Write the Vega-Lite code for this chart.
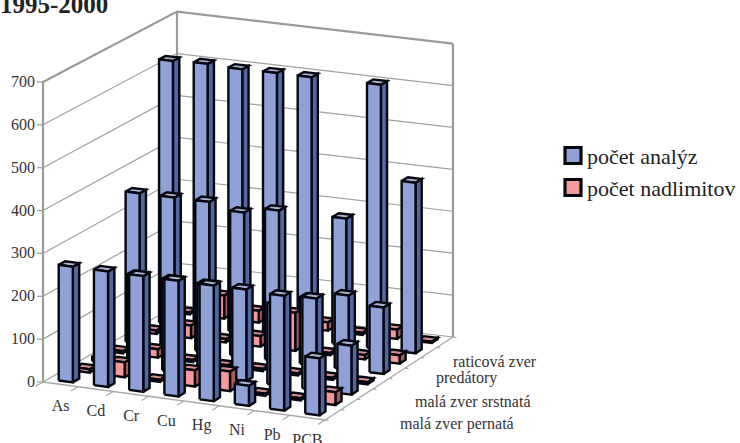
{
  "$schema": "https://vega.github.io/schema/vega-lite/v6.json",
  "width": 740,
  "height": 443,
  "padding": 0,
  "autosize": {"type": "none"},
  "background": "white",
  "config": {"view": {"stroke": null}, "font": "Liberation Serif"},
  "datasets": {
    "bars": [
      {"element": "As", "category": "raticová zver", "series": "počet nadlimitov", "value": 5},
      {"element": "Cd", "category": "raticová zver", "series": "počet nadlimitov", "value": 55},
      {"element": "Cr", "category": "raticová zver", "series": "počet nadlimitov", "value": 28},
      {"element": "Cu", "category": "raticová zver", "series": "počet nadlimitov", "value": 15},
      {"element": "Hg", "category": "raticová zver", "series": "počet nadlimitov", "value": 20},
      {"element": "Ni", "category": "raticová zver", "series": "počet nadlimitov", "value": 5},
      {"element": "Pb", "category": "raticová zver", "series": "počet nadlimitov", "value": 22},
      {"element": "PCB", "category": "raticová zver", "series": "počet nadlimitov", "value": 3},
      {"element": "As", "category": "raticová zver", "series": "počet analýz", "value": 625},
      {"element": "Cd", "category": "raticová zver", "series": "počet analýz", "value": 628},
      {"element": "Cr", "category": "raticová zver", "series": "počet analýz", "value": 625},
      {"element": "Cu", "category": "raticová zver", "series": "počet analýz", "value": 626},
      {"element": "Hg", "category": "raticová zver", "series": "počet analýz", "value": 626},
      {"element": "Ni", "category": "raticová zver", "series": "počet analýz", "value": 300},
      {"element": "Pb", "category": "raticová zver", "series": "počet analýz", "value": 628},
      {"element": "PCB", "category": "raticová zver", "series": "počet analýz", "value": 405},
      {"element": "As", "category": "predátory", "series": "počet nadlimitov", "value": 8},
      {"element": "Cd", "category": "predátory", "series": "počet nadlimitov", "value": 30},
      {"element": "Cr", "category": "predátory", "series": "počet nadlimitov", "value": 8},
      {"element": "Cu", "category": "predátory", "series": "počet nadlimitov", "value": 25},
      {"element": "Hg", "category": "predátory", "series": "počet nadlimitov", "value": 90},
      {"element": "Ni", "category": "predátory", "series": "počet nadlimitov", "value": 5},
      {"element": "Pb", "category": "predátory", "series": "počet nadlimitov", "value": 10},
      {"element": "PCB", "category": "predátory", "series": "počet nadlimitov", "value": 20},
      {"element": "As", "category": "predátory", "series": "počet analýz", "value": 355},
      {"element": "Cd", "category": "predátory", "series": "počet analýz", "value": 355},
      {"element": "Cr", "category": "predátory", "series": "počet analýz", "value": 355},
      {"element": "Cu", "category": "predátory", "series": "počet analýz", "value": 340},
      {"element": "Hg", "category": "predátory", "series": "počet analýz", "value": 355},
      {"element": "Ni", "category": "predátory", "series": "počet analýz", "value": 157},
      {"element": "Pb", "category": "predátory", "series": "počet analýz", "value": 175},
      {"element": "PCB", "category": "predátory", "series": "počet analýz", "value": 157},
      {"element": "As", "category": "malá zver srstnatá", "series": "počet nadlimitov", "value": 5},
      {"element": "Cd", "category": "malá zver srstnatá", "series": "počet nadlimitov", "value": 20},
      {"element": "Cr", "category": "malá zver srstnatá", "series": "počet nadlimitov", "value": 5},
      {"element": "Cu", "category": "malá zver srstnatá", "series": "počet nadlimitov", "value": 3},
      {"element": "Hg", "category": "malá zver srstnatá", "series": "počet nadlimitov", "value": 5},
      {"element": "Ni", "category": "malá zver srstnatá", "series": "počet nadlimitov", "value": 5},
      {"element": "Pb", "category": "malá zver srstnatá", "series": "počet nadlimitov", "value": 5},
      {"element": "PCB", "category": "malá zver srstnatá", "series": "počet nadlimitov", "value": 5},
      {"element": "As", "category": "malá zver srstnatá", "series": "počet analýz", "value": 10},
      {"element": "Cd", "category": "malá zver srstnatá", "series": "počet analýz", "value": 215},
      {"element": "Cr", "category": "malá zver srstnatá", "series": "počet analýz", "value": 215},
      {"element": "Cu", "category": "malá zver srstnatá", "series": "počet analýz", "value": 215},
      {"element": "Hg", "category": "malá zver srstnatá", "series": "počet analýz", "value": 215},
      {"element": "Ni", "category": "malá zver srstnatá", "series": "počet analýz", "value": 190},
      {"element": "Pb", "category": "malá zver srstnatá", "series": "počet analýz", "value": 215},
      {"element": "PCB", "category": "malá zver srstnatá", "series": "počet analýz", "value": 115},
      {"element": "As", "category": "malá zver pernatá", "series": "počet nadlimitov", "value": 8},
      {"element": "Cd", "category": "malá zver pernatá", "series": "počet nadlimitov", "value": 35},
      {"element": "Cr", "category": "malá zver pernatá", "series": "počet nadlimitov", "value": 5},
      {"element": "Cu", "category": "malá zver pernatá", "series": "počet nadlimitov", "value": 38},
      {"element": "Hg", "category": "malá zver pernatá", "series": "počet nadlimitov", "value": 46},
      {"element": "Ni", "category": "malá zver pernatá", "series": "počet nadlimitov", "value": 5},
      {"element": "Pb", "category": "malá zver pernatá", "series": "počet nadlimitov", "value": 5},
      {"element": "PCB", "category": "malá zver pernatá", "series": "počet nadlimitov", "value": 30},
      {"element": "As", "category": "malá zver pernatá", "series": "počet analýz", "value": 270},
      {"element": "Cd", "category": "malá zver pernatá", "series": "počet analýz", "value": 270},
      {"element": "Cr", "category": "malá zver pernatá", "series": "počet analýz", "value": 270},
      {"element": "Cu", "category": "malá zver pernatá", "series": "počet analýz", "value": 270},
      {"element": "Hg", "category": "malá zver pernatá", "series": "počet analýz", "value": 270},
      {"element": "Ni", "category": "malá zver pernatá", "series": "počet analýz", "value": 47},
      {"element": "Pb", "category": "malá zver pernatá", "series": "počet analýz", "value": 268},
      {"element": "PCB", "category": "malá zver pernatá", "series": "počet analýz", "value": 133}
    ],
    "levels": [
      {"level": 0}, {"level": 100}, {"level": 200}, {"level": 300},
      {"level": 400}, {"level": 500}, {"level": 600}, {"level": 700}
    ],
    "elements": [
      {"element": "As"}, {"element": "Cd"}, {"element": "Cr"}, {"element": "Cu"},
      {"element": "Hg"}, {"element": "Ni"}, {"element": "Pb"}, {"element": "PCB"}
    ],
    "categories": [
      {"category": "malá zver pernatá"}, {"category": "malá zver srstnatá"},
      {"category": "predátory"}, {"category": "raticová zver"}
    ],
    "edges": [
      {"edge": "left"}, {"edge": "back"}, {"edge": "right"}
    ],
    "divisions": [
      {"n": 0}, {"n": 1}, {"n": 2}, {"n": 3}, {"n": 4}, {"n": 5}, {"n": 6}, {"n": 7}, {"n": 8}
    ],
    "series": [
      {"series": "počet analýz"}, {"series": "počet nadlimitov"}
    ],
    "heading": [
      {"heading": "1995-2000"}
    ]
  },
  "layer": [
    {
      "description": "Wall gridlines: left wall and back wall, one polyline per level",
      "data": {"name": "levels"},
      "transform": [
        {"filter": "datum.level < 700"},
        {"calculate": "[0,1,2]", "as": "p"},
        {"flatten": ["p"]},
        {"calculate": "[0,0,1][datum.p]", "as": "u"},
        {"calculate": "[0,1,1][datum.p]", "as": "v"},
        {"calculate": "43+282*datum.u+134*datum.v-6*datum.u*datum.v", "as": "sx"},
        {"calculate": "382+38*datum.u-77*datum.v-6*datum.u*datum.v-datum.level*(0.4286-0.0095*datum.v)", "as": "sy"}
      ],
      "mark": {"type": "line", "color": "#a0a0a0", "strokeWidth": 1.2},
      "encoding": {
        "x": {"field": "sx", "type": "quantitative", "scale": {"domain": [0, 740], "nice": false, "zero": false}, "axis": null},
        "y": {"field": "sy", "type": "quantitative", "scale": {"domain": [0, 443], "reverse": true, "nice": false, "zero": false}, "axis": null},
        "detail": {"field": "level"},
        "order": {"field": "p"}
      }
    },
    {
      "description": "Upper rim of the walls at the top of the value range",
      "data": {"name": "levels"},
      "transform": [
        {"filter": "datum.level === 700"},
        {"calculate": "[0,1,2]", "as": "p"},
        {"flatten": ["p"]},
        {"calculate": "[0,0,1][datum.p]", "as": "u"},
        {"calculate": "[0,1,1][datum.p]", "as": "v"},
        {"calculate": "43+282*datum.u+134*datum.v-6*datum.u*datum.v", "as": "sx"},
        {"calculate": "382+38*datum.u-77*datum.v-6*datum.u*datum.v-datum.level*(0.4286-0.0095*datum.v)", "as": "sy"}
      ],
      "mark": {"type": "line", "color": "#9a9a9a", "strokeWidth": 2.2},
      "encoding": {
        "x": {"field": "sx", "type": "quantitative", "axis": null},
        "y": {"field": "sy", "type": "quantitative", "axis": null},
        "order": {"field": "p"}
      }
    },
    {
      "description": "Vertical edges of the three walls",
      "data": {"name": "edges"},
      "transform": [
        {"calculate": "[0,700]", "as": "level"},
        {"flatten": ["level"]},
        {"calculate": "datum.edge === 'right' ? 1 : 0", "as": "u"},
        {"calculate": "datum.edge === 'left' ? 0 : 1", "as": "v"},
        {"calculate": "43+282*datum.u+134*datum.v-6*datum.u*datum.v", "as": "sx"},
        {"calculate": "382+38*datum.u-77*datum.v-6*datum.u*datum.v-datum.level*(0.4286-0.0095*datum.v)", "as": "sy"}
      ],
      "mark": {"type": "line", "color": "#9a9a9a", "strokeWidth": 2.2},
      "encoding": {
        "x": {"field": "sx", "type": "quantitative", "axis": null},
        "y": {"field": "sy", "type": "quantitative", "axis": null},
        "detail": {"field": "edge"},
        "order": {"field": "level"}
      }
    },
    {
      "description": "Ticks along the element axis and the category axis",
      "data": {"name": "divisions"},
      "transform": [
        {"calculate": "['element','category']", "as": "axis"},
        {"flatten": ["axis"]},
        {"calculate": "[0,1]", "as": "p"},
        {"flatten": ["p"]},
        {"calculate": "datum.axis === 'element' ? datum.n/8 : 1+0.012*datum.p", "as": "u"},
        {"calculate": "datum.axis === 'element' ? -0.055*datum.p : datum.n/8", "as": "v"},
        {"calculate": "43+282*datum.u+134*datum.v-6*datum.u*datum.v", "as": "sx"},
        {"calculate": "382+38*datum.u-77*datum.v-6*datum.u*datum.v", "as": "sy"},
        {"calculate": "datum.axis + datum.n", "as": "tick"}
      ],
      "mark": {"type": "line", "color": "#a8a8a8", "strokeWidth": 1.2},
      "encoding": {
        "x": {"field": "sx", "type": "quantitative", "axis": null},
        "y": {"field": "sy", "type": "quantitative", "axis": null},
        "detail": {"field": "tick"},
        "order": {"field": "p"}
      }
    },
    {
      "description": "Floor outline on the two near sides",
      "data": {"name": "divisions"},
      "transform": [
        {"filter": "datum.n === 0 || datum.n === 8"},
        {"calculate": "['element','category']", "as": "axis"},
        {"flatten": ["axis"]},
        {"calculate": "datum.axis === 'element' ? datum.n/8 : 1", "as": "u"},
        {"calculate": "datum.axis === 'element' ? 0 : datum.n/8", "as": "v"},
        {"calculate": "43+282*datum.u+134*datum.v-6*datum.u*datum.v", "as": "sx"},
        {"calculate": "382+38*datum.u-77*datum.v-6*datum.u*datum.v", "as": "sy"}
      ],
      "mark": {"type": "line", "color": "#a8a8a8", "strokeWidth": 1.4},
      "encoding": {
        "x": {"field": "sx", "type": "quantitative", "axis": null},
        "y": {"field": "sy", "type": "quantitative", "axis": null},
        "detail": {"field": "axis"},
        "order": {"field": "n"}
      }
    },
    {
      "description": "Value axis ticks",
      "data": {"name": "levels"},
      "transform": [
        {"calculate": "[0,1]", "as": "p"},
        {"flatten": ["p"]},
        {"calculate": "43-6*datum.p", "as": "sx"},
        {"calculate": "382-datum.level*0.4286", "as": "sy"}
      ],
      "mark": {"type": "line", "color": "#9a9a9a", "strokeWidth": 1.2},
      "encoding": {
        "x": {"field": "sx", "type": "quantitative", "axis": null},
        "y": {"field": "sy", "type": "quantitative", "axis": null},
        "detail": {"field": "level"},
        "order": {"field": "p"}
      }
    },
    {
      "description": "Each bar becomes three closed faces, drawn from the back row to the front row",
      "data": {"name": "bars"},
      "transform": [
        {"calculate": "indexof(['As','Cd','Cr','Cu','Hg','Ni','Pb','PCB'], datum.element)", "as": "col"},
        {"calculate": "2*indexof(['malá zver pernatá','malá zver srstnatá','predátory','raticová zver'], datum.category) + (datum.series === 'počet nadlimitov' ? 1 : 0)", "as": "row"},
        {"calculate": "['side','top','front']", "as": "face"},
        {"flatten": ["face"]},
        {"calculate": "[0,1,2,3,4]", "as": "corner"},
        {"flatten": ["corner"]},
        {"calculate": "datum.face === 'side' ? 1 : [-1,1,1,-1,-1][datum.corner]", "as": "du"},
        {"calculate": "datum.face === 'front' ? -1 : datum.face === 'side' ? [-1,1,1,-1,-1][datum.corner] : [-1,-1,1,1,-1][datum.corner]", "as": "dv"},
        {"calculate": "datum.face === 'top' ? 1 : [0,0,1,1,0][datum.corner]", "as": "up"},
        {"calculate": "(datum.col+0.5)/8+0.025*datum.du", "as": "u"},
        {"calculate": "(datum.row+0.5)/8+0.024*datum.dv", "as": "v"},
        {"calculate": "43+282*datum.u+134*datum.v-6*datum.u*datum.v", "as": "sx"},
        {"calculate": "382+38*datum.u-77*datum.v-6*datum.u*datum.v-datum.up*datum.value*(0.4286-0.0095*datum.v)", "as": "sy"},
        {"calculate": "datum.element+'|'+datum.row+'|'+datum.face", "as": "polygon"},
        {"calculate": "datum.face === 'front' ? datum.series : datum.series+' '+datum.face", "as": "shade"}
      ],
      "mark": {"type": "line", "stroke": "#06060f", "strokeWidth": 2.4, "strokeJoin": "miter"},
      "encoding": {
        "x": {"field": "sx", "type": "quantitative", "axis": null},
        "y": {"field": "sy", "type": "quantitative", "axis": null},
        "detail": {"field": "polygon"},
        "order": {"field": "corner"},
        "fill": {
          "field": "shade",
          "type": "nominal",
          "scale": {
            "domain": ["počet analýz", "počet nadlimitov", "počet analýz side", "počet analýz top", "počet nadlimitov side", "počet nadlimitov top"],
            "range": ["#8ea2d8", "#f59a9a", "#50689f", "#a8b3d0", "#a85c5c", "#d98e8e"]
          },
          "legend": null
        }
      }
    },
    {
      "description": "Key swatches, one per series",
      "data": {"name": "series"},
      "transform": [
        {"calculate": "573", "as": "sx"},
        {"calculate": "155.5+32*indexof(['počet analýz','počet nadlimitov'], datum.series)", "as": "sy"}
      ],
      "mark": {"type": "square", "size": 256, "opacity": 1, "stroke": "#06060f", "strokeWidth": 3.2},
      "encoding": {
        "x": {"field": "sx", "type": "quantitative", "axis": null},
        "y": {"field": "sy", "type": "quantitative", "axis": null},
        "fill": {"field": "series", "type": "nominal", "legend": null}
      }
    },
    {
      "description": "Key labels",
      "data": {"name": "series"},
      "transform": [
        {"calculate": "587", "as": "sx"},
        {"calculate": "157+32*indexof(['počet analýz','počet nadlimitov'], datum.series)", "as": "sy"}
      ],
      "mark": {"type": "text", "align": "left", "baseline": "middle", "font": "Liberation Serif", "fontSize": 22, "color": "#222"},
      "encoding": {
        "x": {"field": "sx", "type": "quantitative", "axis": null},
        "y": {"field": "sy", "type": "quantitative", "axis": null},
        "text": {"field": "series"}
      }
    },
    {
      "description": "Heading, running off the top of the page",
      "data": {"name": "heading"},
      "transform": [
        {"calculate": "0", "as": "sx"},
        {"calculate": "13", "as": "sy"}
      ],
      "mark": {"type": "text", "align": "left", "baseline": "alphabetic", "font": "Liberation Serif", "fontSize": 25, "fontWeight": "bold", "color": "#222"},
      "encoding": {
        "x": {"field": "sx", "type": "quantitative", "axis": null},
        "y": {"field": "sy", "type": "quantitative", "axis": null},
        "text": {"field": "heading"}
      }
    },
    {
      "description": "Value axis labels",
      "data": {"name": "levels"},
      "transform": [
        {"calculate": "43", "as": "sx"},
        {"calculate": "382-datum.level*0.4286", "as": "sy"}
      ],
      "mark": {"type": "text", "align": "right", "baseline": "middle", "dx": -8, "font": "Liberation Serif", "fontSize": 16, "color": "#333"},
      "encoding": {
        "x": {"field": "sx", "type": "quantitative", "axis": null},
        "y": {"field": "sy", "type": "quantitative", "axis": null},
        "text": {"field": "level"}
      }
    },
    {
      "description": "Element labels under the near floor edge",
      "data": {"name": "elements"},
      "transform": [
        {"calculate": "(indexof(['As','Cd','Cr','Cu','Hg','Ni','Pb','PCB'], datum.element)+0.5)/8", "as": "u"},
        {"calculate": "43+282*datum.u", "as": "sx"},
        {"calculate": "382+38*datum.u", "as": "sy"}
      ],
      "mark": {"type": "text", "align": "center", "baseline": "middle", "dy": 22, "font": "Liberation Serif", "fontSize": 16, "color": "#333"},
      "encoding": {
        "x": {"field": "sx", "type": "quantitative", "axis": null},
        "y": {"field": "sy", "type": "quantitative", "axis": null},
        "text": {"field": "element"}
      }
    },
    {
      "description": "Category labels beside the right floor edge, staggered",
      "data": {"name": "categories"},
      "transform": [
        {"calculate": "indexof(['malá zver pernatá','malá zver srstnatá','predátory','raticová zver'], datum.category)", "as": "i"},
        {"calculate": "(2*datum.i+1)/8", "as": "v"},
        {"calculate": "325+128*datum.v+[59,42,31,16][datum.i]", "as": "sx"},
        {"calculate": "420-83*datum.v+[14.4,13,10,15][datum.i]", "as": "sy"}
      ],
      "mark": {"type": "text", "align": "left", "baseline": "middle", "font": "Liberation Serif", "fontSize": 16, "color": "#333"},
      "encoding": {
        "x": {"field": "sx", "type": "quantitative", "axis": null},
        "y": {"field": "sy", "type": "quantitative", "axis": null},
        "text": {"field": "category"}
      }
    }
  ]
}
